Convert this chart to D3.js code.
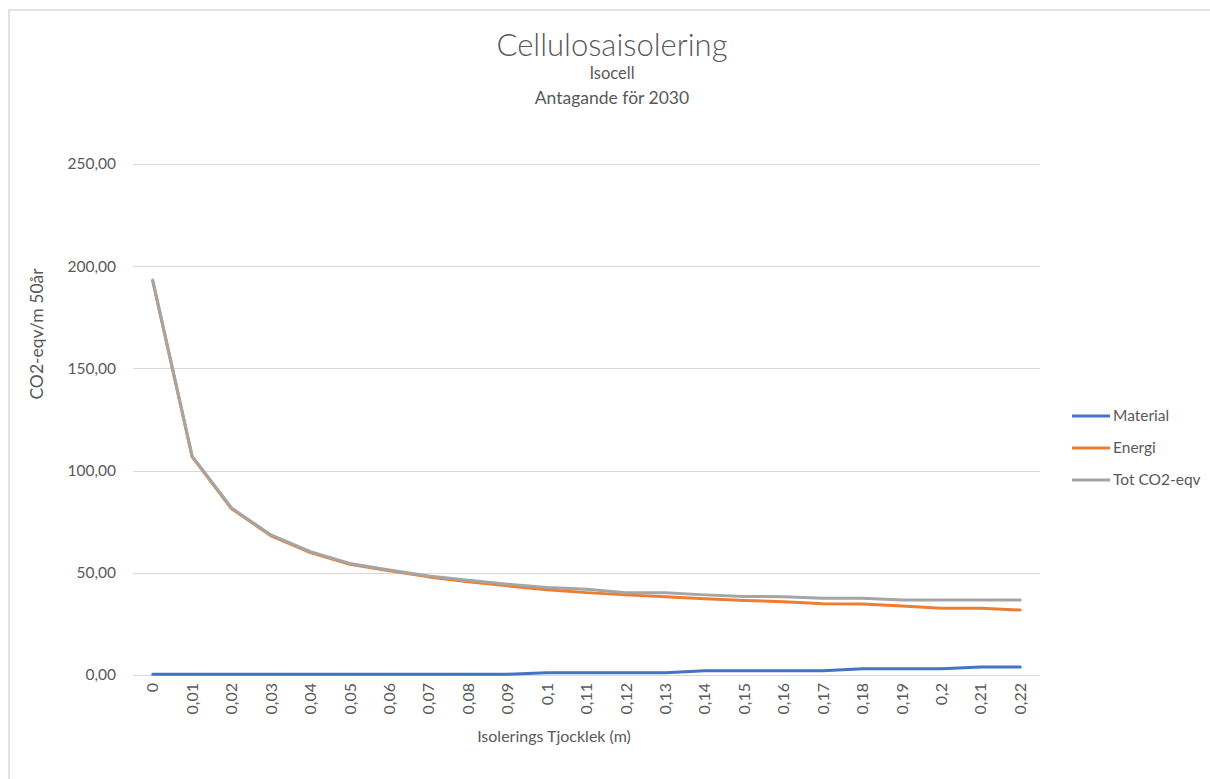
<!DOCTYPE html>
<html>
<head>
<meta charset="utf-8">
<script src="https://cdn.jsdelivr.net/npm/d3@7"></script>
<style>
  html, body { margin: 0; padding: 0; background: #fff; }
  svg { display: block; }
  text { font-family: Lato, "Open Sans", sans-serif; fill: #595959; }
</style>
</head>
<body>
<script>
// Insulation thickness (m) on the category axis
const thickness = ["0","0,01","0,02","0,03","0,04","0,05","0,06","0,07","0,08","0,09","0,1",
                   "0,11","0,12","0,13","0,14","0,15","0,16","0,17","0,18","0,19","0,2","0,21","0,22"];

// CO2-eqv per m over 50 years
const material = [0.4,0.4,0.4,0.4,0.4,0.4,0.4,0.4,0.4,0.4,1.1,1.1,1.1,1.1,2.1,2.1,2.1,2.1,3.0,3.0,3.0,3.9,3.9];
const energi   = [192.8,106.7,81.3,68.1,59.9,54.2,51.0,48.0,45.6,43.6,41.7,40.3,39.2,38.3,37.3,36.5,35.8,34.8,34.7,33.8,32.7,32.6,31.8];
const totCO2   = [193.2,107.1,81.7,68.5,60.3,54.6,51.4,48.4,46.3,44.4,42.8,41.9,40.3,40.2,39.2,38.4,38.3,37.5,37.5,36.7,36.7,36.7,36.7];

const yTicks = [0, 50, 100, 150, 200, 250];

const seriesNames  = ["Material", "Energi", "Tot CO2-eqv"];
const seriesColors = ["#4472C4", "#ED7D31", "#A5A5A5"];
const seriesValues = [material, energi, totCO2];

const W = 1210, H = 779;
const plot = { left: 133, right: 1040, top: 164, bottom: 675 };

const svg = d3.select("body").append("svg").attr("width", W).attr("height", H);

// chart frame
svg.append("rect")
  .attr("x", 9).attr("y", 10).attr("width", W + 20).attr("height", H + 20)
  .attr("fill", "#fff").attr("stroke", "#D9D9D9").attr("stroke-width", 1.5);

const x = d3.scaleBand().domain(thickness).range([plot.left, plot.right]);
const y = d3.scaleLinear().domain([0, 250]).range([plot.bottom, plot.top]);

// horizontal gridlines
svg.append("g").selectAll("line").data(yTicks).join("line")
  .attr("x1", plot.left).attr("x2", plot.right)
  .attr("y1", d => Math.round(y(d)) + 0.5).attr("y2", d => Math.round(y(d)) + 0.5)
  .attr("stroke", "#D9D9D9").attr("stroke-width", 1);

// y axis labels
const fmt = d => d3.format(".2f")(d).replace(".", ",");
const yAxis = d3.axisLeft(y).tickValues(yTicks).tickFormat(fmt).tickSize(0).tickPadding(17);
const gy = svg.append("g").attr("transform", `translate(${plot.left},0)`).call(yAxis);
gy.select(".domain").remove();
gy.selectAll("text").attr("font-size", 15.5).attr("fill", "#595959")
  .style("font-family", "Lato, sans-serif");

// x axis labels, rotated
const xAxis = d3.axisBottom(x).tickSize(0).tickPadding(0);
const gx = svg.append("g").attr("transform", `translate(0,${plot.bottom})`).call(xAxis);
gx.select(".domain").remove();
gx.selectAll("text")
  .attr("font-size", 16).attr("fill", "#595959").style("font-family", "Lato, sans-serif")
  .attr("text-anchor", "end").attr("dy", "0.35em")
  .attr("transform", "translate(0,8) rotate(-90)")
  .attr("x", 0).attr("y", 0);

// series lines
const line = d3.line()
  .x((d, i) => x(thickness[i]) + x.bandwidth() / 2)
  .y(d => y(d));

svg.append("g").selectAll("path").data(seriesValues).join("path")
  .attr("d", d => line(d))
  .attr("fill", "none")
  .attr("stroke", (d, i) => seriesColors[i])
  .attr("stroke-width", 3)
  .attr("stroke-linejoin", "round")
  .attr("stroke-linecap", "round");

// titles
svg.append("text").attr("x", 612).attr("y", 56).attr("text-anchor", "middle")
  .attr("font-size", 31).style("font-weight", 300).text("Cellulosaisolering");
svg.append("text").attr("x", 612).attr("y", 79).attr("text-anchor", "middle")
  .attr("font-size", 16.5).text("Isocell");
svg.append("text").attr("x", 612).attr("y", 104).attr("text-anchor", "middle")
  .attr("font-size", 17.5).text("Antagande för 2030");

// axis titles
svg.append("text").attr("x", 554).attr("y", 742).attr("text-anchor", "middle")
  .attr("font-size", 16).text("Isolerings Tjocklek (m)");
svg.append("text").attr("transform", "translate(43,334) rotate(-90)").attr("text-anchor", "middle")
  .attr("font-size", 17.5).text("CO2-eqv/m 50år");

// legend
const legend = svg.append("g").selectAll("g").data(seriesNames).join("g")
  .attr("transform", (d, i) => `translate(1072,${416 + i * 32})`);
legend.append("line").attr("x1", 0).attr("x2", 38).attr("y1", 0).attr("y2", 0)
  .attr("stroke", (d, i) => seriesColors[i]).attr("stroke-width", 3);
legend.append("text").attr("x", 41).attr("y", 0).attr("dy", "0.35em")
  .attr("font-size", 15.5).text(d => d);
</script>
</body>
</html>
